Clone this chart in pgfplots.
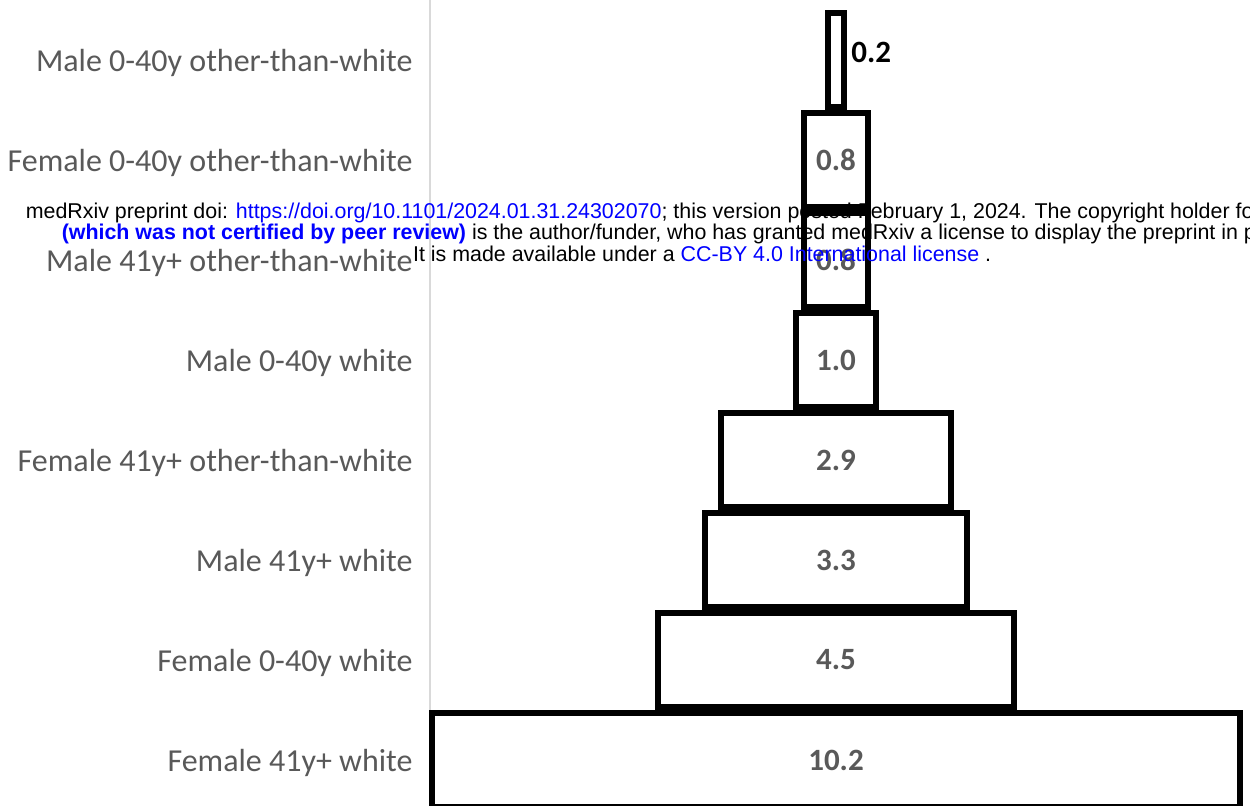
\documentclass[border=0pt]{standalone}
\usepackage{pgfplots}
\pgfplotsset{compat=1.18}
\usepackage{fontspec}
\setmainfont{Carlito}
\newfontfamily\arialfont{Liberation Sans}
\definecolor{lbl}{HTML}{595959}
\definecolor{axgray}{HTML}{D9D9D9}
\definecolor{link}{HTML}{0000FF}
\tikzset{
  val/.style={font=\bfseries\fontsize{15.5}{18}\selectfont, text=lbl},
  wm/.style={font=\arialfont\fontsize{10.7}{12}\selectfont, inner sep=0pt, anchor=base},
}

\begin{document}
\begin{tikzpicture}
\begin{axis}[
  width=410.2pt, height=403pt, scale only axis,
  xmin=-0.03, xmax=10.326,
  ymin=-0.46, ymax=7.6,
  xbar stacked,
  bar width=47pt,
  axis y line*=left,
  axis x line=none,
  y axis line style={draw=axgray, line width=1pt},
  ytick={0,1,2,3,4,5,6,7},
  yticklabels={Female 41y+ white, Female 0-40y white, Male 41y+ white,
    Female 41y+ other-than-white, Male 0-40y white, Male 41y+ other-than-white,
    Female 0-40y other-than-white, Male 0-40y other-than-white},
  major tick length=0pt,
  yticklabel style={font=\fontsize{16}{19}\selectfont, text=lbl, xshift=-5pt, yshift=-1.5pt},
  clip=false,
]
% invisible offsets that centre each bar
\addplot[draw=none, fill=none] coordinates {
  (5.0,7) (4.7,6) (4.7,5) (4.6,4) (3.65,3) (3.45,2) (2.85,1) (0,0)};
\addplot[draw=black, fill=white, line width=3pt] coordinates {
  (0.2,7) (0.8,6) (0.8,5) (1.0,4) (2.9,3) (3.3,2) (4.5,1) (10.2,0)};

% anchor points for the labels, drawn after the bars
\coordinate (v6) at (axis cs:5.1,6);
\coordinate (v5) at (axis cs:5.1,5);
\coordinate (v4) at (axis cs:5.1,4);
\coordinate (v3) at (axis cs:5.1,3);
\coordinate (v2) at (axis cs:5.1,2);
\coordinate (v1) at (axis cs:5.1,1);
\coordinate (v0) at (axis cs:5.1,0);
\coordinate (v7) at (axis cs:5.29,7.08);
\coordinate (w1) at (axis cs:3.41,5.41);
\coordinate (w2) at (axis cs:3.41,5.20);
\coordinate (w3) at (axis cs:3.41,4.98);
\coordinate (bl) at (rel axis cs:0,0);
\coordinate (tr) at (rel axis cs:1,1);
\end{axis}

\node[val] at (v6) {0.8};
\node[val] at (v5) {0.8};
\node[val] at (v4) {1.0};
\node[val] at (v3) {2.9};
\node[val] at (v2) {3.3};
\node[val] at (v1) {4.5};
\node[val] at (v0) {10.2};
\node[val, anchor=west, inner sep=0pt, text=black] at (v7) {0.2};

% preprint watermark
\node[wm] at (w1) {medRxiv preprint doi: \textcolor{link}{https://doi.org/10.1101/2024.01.31.24302070}; this version posted February 1, 2024. The copyright holder for this preprint};
\node[wm] at (w2) {\textcolor{link}{\bfseries (which was not certified by peer review)} is the author/funder, who has granted medRxiv a license to display the preprint in perpetuity.};
\node[wm] at (w3) {It is made available under a \textcolor{link}{CC-BY 4.0 International license} .};

\pgfresetboundingbox
\path[use as bounding box] ([xshift=-214.8pt]bl) rectangle (tr);
\end{tikzpicture}
\end{document}
